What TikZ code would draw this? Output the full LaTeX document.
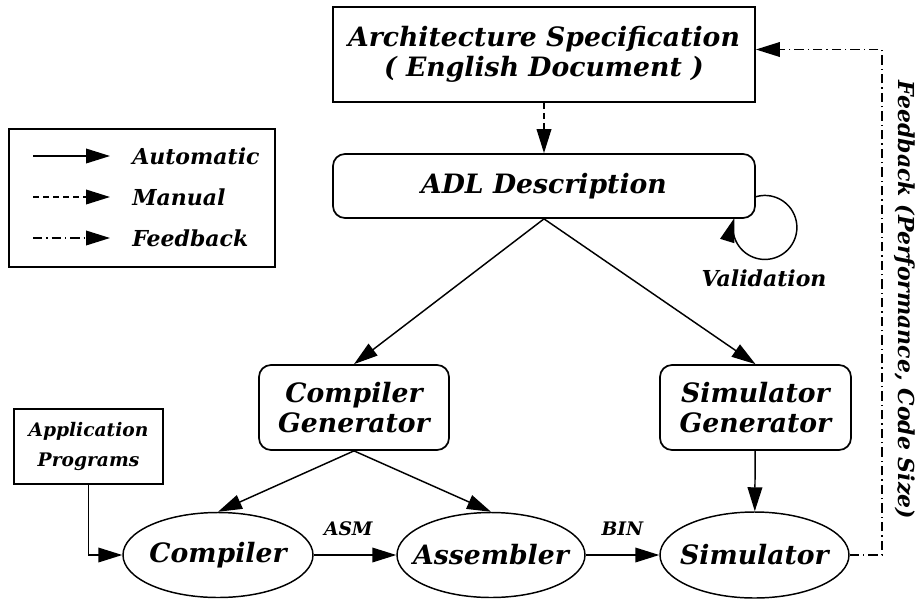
\documentclass[tikz,border=0pt]{standalone}
\usepackage{tikz}
\usepackage{fontspec}
\setmainfont{DejaVu Serif}
\usetikzlibrary{arrows.meta,shapes.geometric}
\newcommand{\bigfont}{\fontsize{20}{22.5}\selectfont\bfseries\itshape}
\newcommand{\midfont}{\fontsize{16.5}{21}\selectfont\bfseries\itshape}
\newcommand{\smallfont}{\fontsize{14}{23}\selectfont\bfseries\itshape}
\newcommand{\ovaltext}[1]{\makebox[0pt]{#1}}
\tikzset{
  >={Triangle[length=18pt,width=11pt]},
  auto line/.style={line width=1.1pt,->},
  manual line/.style={line width=1.1pt,->,dash pattern=on 4.5pt off 3pt},
  feedback line/.style={line width=1.1pt,->,dash pattern=on 7pt off 3pt on 1pt off 3pt},
  box/.style={draw,line width=1.3pt,align=center,font=\bigfont,inner sep=0pt},
  roundbox/.style={box,rounded corners=9pt},
  oval/.style={draw,ellipse,line width=1.1pt,font=\bigfont,inner sep=0pt},
  legtext/.style={anchor=west,inner sep=0pt,font=\midfont}
}

\begin{document}
\begin{tikzpicture}[x=0.75pt,y=-0.75pt]
\useasboundingbox (0,0) rectangle (922,601);
\node[box,minimum width=316.5pt,minimum height=71.25pt] (arch) at (544,54.5) {Architecture Specification\\( English Document )};
\node[roundbox,minimum width=316.5pt,minimum height=48pt] (adl) at (544,186) {ADL Description};
\node[roundbox,minimum width=142.5pt,minimum height=63.75pt] (cgen) at (354,407.5) {Compiler\\Generator};
\node[roundbox,minimum width=143.25pt,minimum height=63.75pt] (sgen) at (755.5,407.5) {Simulator\\Generator};
\node[oval,minimum width=142.5pt,minimum height=63.75pt] (comp) at (218,555) {\ovaltext{Compiler}};
\node[oval,minimum width=141pt,minimum height=63.75pt] (asmb) at (491,555) {\ovaltext{Assembler}};
\node[oval,minimum width=141.75pt,minimum height=64.5pt] (sim) at (754.5,555) {\ovaltext{Simulator}};
\node[box,line width=1.1pt,font=\smallfont,minimum width=111.75pt,minimum height=56.25pt] (app) at (88.5,446.5) {Application\\Programs};

% legend
\node[draw,line width=1.3pt,minimum width=199.5pt,minimum height=103.5pt] (legend) at (142,198) {};
\foreach \y/\sty/\txt/\nm in {156/auto line/Automatic/lauto,197/manual line/Manual/lman,238/feedback line/Feedback/lfb}{
  \coordinate (\nm a) at (33,\y);
  \coordinate (\nm b) at (110,\y);
  \draw[\sty] (\nm a) -- (\nm b);
  \node[legtext] (\nm) at (132,\y) {\txt};
}

\draw[manual line] (arch) -- (adl);
\draw[auto line] (adl.south) -- (cgen.north);
\draw[auto line] (adl.south) -- (sgen.north);
\draw[auto line] (cgen.south) -- (comp.north);
\draw[auto line] (cgen.south) -- (asmb.north);
\draw[auto line] (sgen) -- (sim);
\draw[auto line] (comp) -- node[above=14pt,font=\smallfont,inner sep=0pt,xshift=-5pt] (asmlbl) {ASM} (asmb);
\draw[auto line] (asmb) -- node[above=14pt,font=\smallfont,inner sep=0pt] (binlbl) {BIN} (sim);
\draw[auto line] (app.south) |- (comp.west);

% validation loop
\coordinate (loopstart) at (755,197);
\draw[auto line] (loopstart) arc[start angle=-108,end angle=197,radius=32];
\node[font=\midfont] (valid) at (764,278) {Validation};

% feedback path
\coordinate (fbbottom) at (882,555);
\coordinate (fbtop) at (882,49.5);
\draw[feedback line] (sim.east) -- (fbbottom) -- (fbtop) -- (arch.east |- fbtop);
\node[font=\midfont,rotate=-90] (fbtext) at (905,300) {Feedback (Performance, Code Size)};
\end{tikzpicture}
\end{document}
